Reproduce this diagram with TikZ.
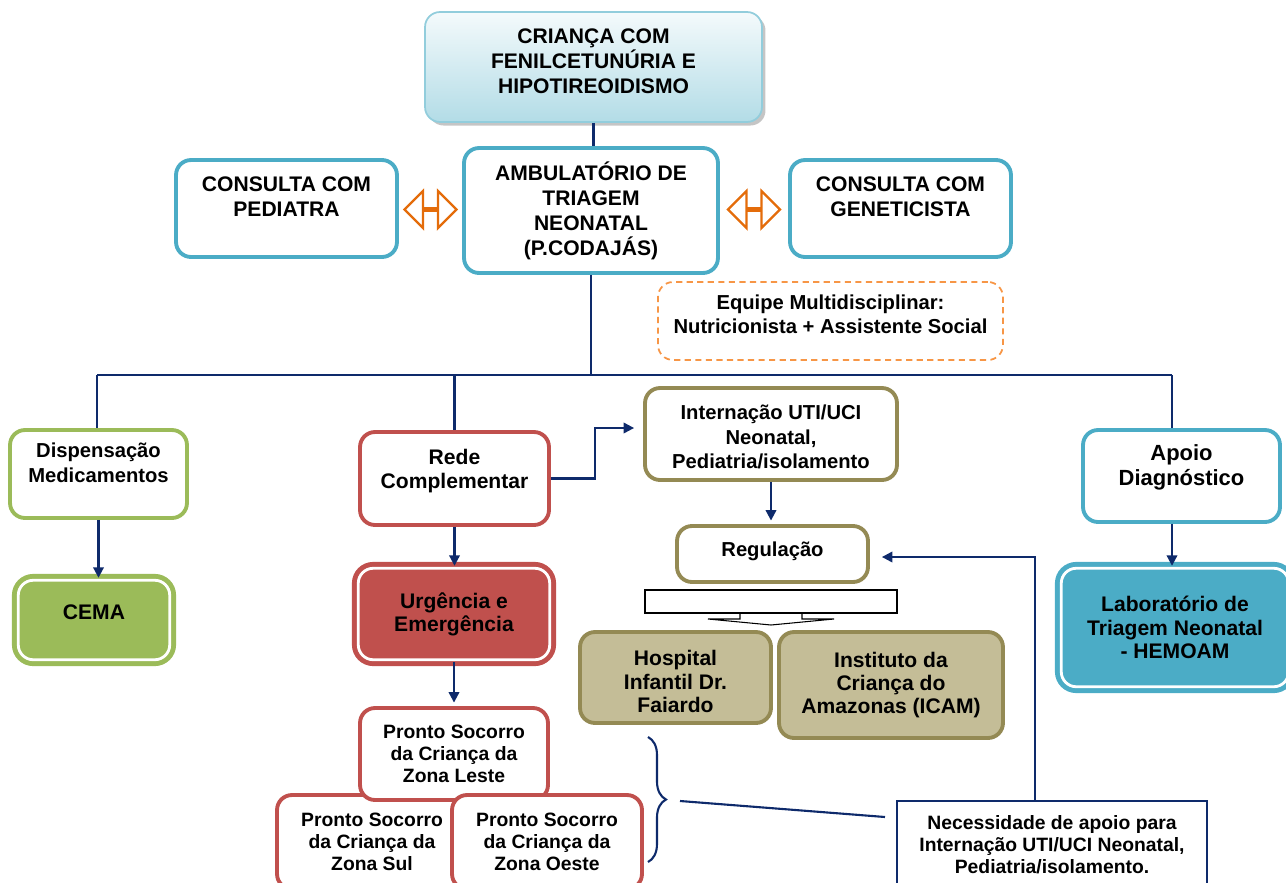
\documentclass[tikz,border=0pt]{standalone}
\usepackage{fontspec}
\setmainfont{Liberation Sans}
\usetikzlibrary{calc}
\usetikzlibrary{shapes.arrows}
\usetikzlibrary{shadows}
\usetikzlibrary{decorations.pathreplacing}
\usetikzlibrary{arrows.meta}

\definecolor{tealb}{HTML}{4BACC6}
\definecolor{greenb}{HTML}{9BBB59}
\definecolor{redb}{HTML}{C0504D}
\definecolor{oliveb}{HTML}{948A54}
\definecolor{tanf}{HTML}{C4BD97}
\definecolor{navyl}{HTML}{0E2A6B}
\definecolor{orangea}{HTML}{E46C0A}
\definecolor{orangeb}{HTML}{F79646}
\definecolor{skyb}{HTML}{92CDDC}

\begin{document}
\begin{tikzpicture}[x=0.02cm, y=-0.02cm,
    box/.style={rounded corners=0.3cm, line width=2.2pt, fill=white, align=center,
      inner sep=2pt, font=\fontsize{11.5}{13.2}\selectfont\bfseries},
    capbox/.style={box, font=\fontsize{12}{14.2}\selectfont\bfseries},
    smallbox/.style={box, font=\fontsize{11}{12.5}\selectfont\bfseries},
    filledbox/.style={box, draw=#1, fill=#1, double=white, double distance=1.6pt, line width=2.8pt},
    lift/.style={text depth=#1},
    sink/.style={text height=#1},
    link/.style={navyl, line width=1.2pt},
    arr/.style={link, -{Triangle[length=6pt,width=6pt]}},
    dblarrow/.style={double arrow, draw=orangea, fill=white, line width=1.3pt, inner sep=0pt,
      minimum height=1.04cm, minimum width=0.74cm, double arrow head extend=0.3cm}]

  \useasboundingbox (0,0) rectangle (1286,883);
  \clip (0,0) rectangle (1286,883);

  % top part
  \node [capbox, draw=skyb, line width=1pt, top color=skyb!10, bottom color=skyb!70,
    drop shadow={shadow xshift=2pt, shadow yshift=-2pt, fill=black!45},
    minimum width=6.74cm, minimum height=2.2cm, lift=7pt] (child) at (593.5,67)
    {CRIANÇA COM\\FENILCETUNÚRIA E\\HIPOTIREOIDISMO};
  \node [capbox, draw=tealb, minimum width=5.08cm, minimum height=2.5cm] (amb) at (591,210.5)
    {AMBULATÓRIO DE\\TRIAGEM\\NEONATAL\\(P.CODAJÁS)};
  \node [capbox, draw=tealb, minimum width=4.42cm, minimum height=1.94cm, lift=14pt] (ped) at (286.5,208.5)
    {CONSULTA COM\\PEDIATRA};
  \node [capbox, draw=tealb, minimum width=4.42cm, minimum height=1.94cm, lift=14pt] (gen) at (900.5,208.5)
    {CONSULTA COM\\GENETICISTA};
  \node [dblarrow] (arrL) at ($(ped.east)!0.5!(amb.west)$) {};
  \node [dblarrow] (arrR) at ($(amb.east)!0.5!(gen.west)$) {};
  \node [box, draw=orangeb, line width=1pt, dash pattern=on 3.5pt off 2.5pt,
    font=\fontsize{11.5}{14}\selectfont\bfseries,
    minimum width=6.9cm, minimum height=1.56cm, lift=8pt] (team) at (830.5,321)
    {Equipe Multidisciplinar:\\Nutricionista + Assistente Social};

  \draw [link] (child.south) -- (child.south |- amb.north);

  % bus
  \coordinate (busL) at (97,375);
  \coordinate (busR) at (1172,375);
  \draw [link] (amb.south) -- (amb.south |- busL);
  \draw [link] (busL) -- (busR);

  % left column
  \node [box, draw=greenb, font=\fontsize{11.5}{14}\selectfont\bfseries,
    minimum width=3.54cm, minimum height=1.76cm, lift=13pt] (disp) at (98.5,474)
    {Dispensação\\Medicamentos};
  \node [filledbox=greenb, font=\fontsize{12}{14}\selectfont\bfseries,
    minimum width=3.03cm, minimum height=1.59cm, lift=9pt] (cema) at (94,620) {CEMA};
  \draw [link] (busL) -- (busL |- disp.north);
  \draw [arr] (disp.south) -- (disp.south |- cema.north);

  % rede
  \node [box, draw=redb, font=\fontsize{12}{14}\selectfont\bfseries,
    minimum width=3.78cm, minimum height=1.86cm, lift=11pt] (rede) at (454.5,478.5)
    {Rede\\Complementar};
  \node [filledbox=redb, font=\fontsize{12}{13}\selectfont\bfseries,
    minimum width=3.83cm, minimum height=1.83cm] (urg) at (454,614)
    {Urgência e\\Emergência};
  \node [smallbox, draw=redb, minimum width=3.8cm, minimum height=1.88cm] (sul) at (372,842)
    {Pronto Socorro\\da Criança da\\Zona Sul};
  \node [smallbox, draw=redb, minimum width=3.76cm, minimum height=1.84cm] (leste) at (454,754)
    {Pronto Socorro\\da Criança da\\Zona Leste};
  \node [smallbox, draw=redb, minimum width=3.8cm, minimum height=1.88cm] (oeste) at (547,842)
    {Pronto Socorro\\da Criança da\\Zona Oeste};
  \draw [link] (rede.north |- busL) -- (rede.north);
  \draw [arr] (rede.south) -- (rede.south |- urg.north);
  \draw [arr, shorten >=2pt] (urg.south) -- (urg.south |- leste.north);

  % internacao
  \node [box, draw=oliveb, font=\fontsize{11.5}{14}\selectfont\bfseries,
    minimum width=5.04cm, minimum height=1.84cm, sink=40pt] (intern) at (771,434)
    {Internação UTI/UCI\\Neonatal,\\Pediatria/isolamento};
  \node [box, draw=oliveb, minimum width=3.82cm, minimum height=1.12cm, lift=6pt] (reg) at (772.5,554)
    {Regulação};
  \node [box, draw=oliveb, fill=tanf, font=\fontsize{12}{13.3}\selectfont\bfseries,
    minimum width=3.82cm, minimum height=1.82cm, sink=40pt] (hosp) at (675.5,677.5)
    {Hospital\\Infantil Dr.\\Faiardo};
  \node [box, draw=oliveb, fill=tanf, font=\fontsize{12}{13.3}\selectfont\bfseries,
    minimum width=4.48cm, minimum height=2.12cm] (icam) at (891,685)
    {Instituto da\\Criança do\\Amazonas (ICAM)};
  \draw [arr] (rede.east) -- ++(44,0) |- ($(intern.west)+(-9,-6)$);
  \draw [arr, shorten >=2pt] (intern.south) -- (intern.south |- reg.north);

  % splitter under regulacao
  \draw [line width=0.6pt, fill=white] (645,590) rectangle (897,613);
  \draw [line width=0.6pt] (740,613) -- (740,619) -- (708,619) -- (771,625)
    -- (834,619) -- (802,619) -- (802,613);

  % apoio
  \node [box, draw=tealb, font=\fontsize{12.5}{14.2}\selectfont\bfseries,
    minimum width=3.94cm, minimum height=1.84cm, lift=13pt] (apoio) at (1181.5,476)
    {Apoio\\Diagnóstico};
  \node [filledbox=tealb, font=\fontsize{12}{13.2}\selectfont\bfseries,
    minimum width=4.55cm, minimum height=2.37cm] (lab) at (1175,627.5)
    {Laboratório de\\Triagem Neonatal\\- HEMOAM};
  \draw [link] (busR) -- (busR |- apoio.north);
  \draw [arr] (busR |- apoio.south) -- (busR |- lab.north);

  % necessidade
  \node [smallbox, draw=navyl, sharp corners, line width=1.6pt,
    minimum width=6.2cm, minimum height=1.76cm] (need) at (1052,845)
    {Necessidade de apoio para\\Internação UTI/UCI Neonatal,\\Pediatria/isolamento.};
  \draw [arr] ($(need.north)+(-17,0)$) |- ($(reg.east)+(12,3)$);

  \draw [link, decorate, decoration={brace, amplitude=0.36cm}] (648,737) -- (648,862);
  \coordinate (braceTip) at (680,801);
  \coordinate (needEnd) at (885,817);
  \draw [link] (braceTip) -- (needEnd);

\end{tikzpicture}
\end{document}
